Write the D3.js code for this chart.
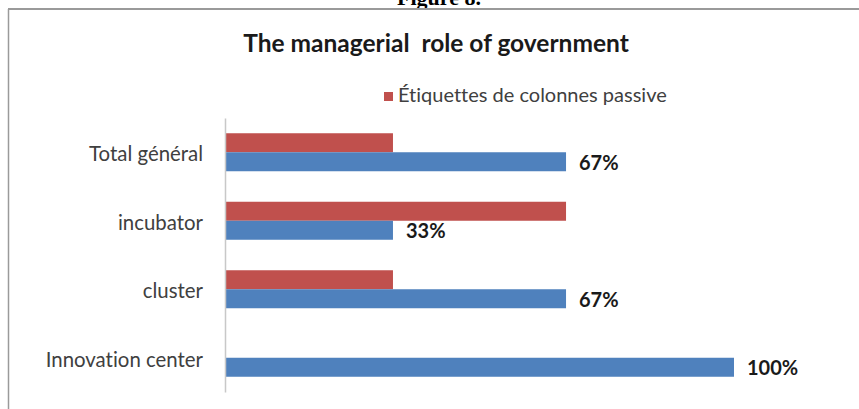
<!DOCTYPE html>
<html><head><meta charset="utf-8">
<script src="https://cdn.jsdelivr.net/npm/d3@7"></script>
<style>body{margin:0;background:#fff;}svg{display:block;}text{font-variant-ligatures:none;}</style>
</head><body>
<script>
const categories = ["Total général", "incubator", "cluster", "Innovation center"];
const passiveValues = [0.33, 0.67, 0.33, 0];
const activeValues = [0.67, 0.33, 0.67, 1.00];
const activeLabels = ["67%", "33%", "67%", "100%"];
const legendLabel = "Étiquettes de colonnes passive";
const title = "The managerial  role of government";
const caption = "Figure 8.";

const W = 859, H = 409;
const svg = d3.select("body").append("svg").attr("width", W).attr("height", H);
const font = "Lato, 'Open Sans', sans-serif";

// caption (cut off at top, as in the reference)
svg.append("text").attr("x", 439).attr("y", 5).attr("text-anchor", "middle")
  .attr("font-family", "'Liberation Serif', serif").attr("font-weight", "bold")
  .attr("font-size", 22).attr("fill", "#000").text(caption);

// frame
svg.append("line").attr("x1", 8).attr("x2", W).attr("y1", 9).attr("y2", 9)
  .attr("stroke", "#9a9a9a").attr("stroke-width", 2);
svg.append("line").attr("x1", 8.5).attr("x2", 8.5).attr("y1", 9).attr("y2", H)
  .attr("stroke", "#9a9a9a").attr("stroke-width", 1.5);

svg.append("text").attr("x", 436).attr("y", 52).attr("text-anchor", "middle")
  .attr("font-family", font).attr("font-weight", "bold").attr("font-size", 24.5)
  .attr("fill", "#1a1a1a").style("white-space", "pre").text(title);

// legend
svg.append("rect").attr("x", 384).attr("y", 92).attr("width", 9).attr("height", 9).attr("fill", "#C0504D");
svg.append("text").attr("x", 398).attr("y", 102).attr("font-family", font).attr("font-size", 20)
  .attr("fill", "#404040").text(legendLabel);

const x = d3.scaleLinear().domain([0, 1]).range([225, 734]);
const y = d3.scaleBand().domain(categories).range([118, 392]);
const barH = 19;

const g = svg.append("g");
categories.forEach((c, i) => {
  const mid = y(c) + y.bandwidth() / 2;
  if (passiveValues[i] > 0)
    g.append("rect").attr("x", x(0)).attr("y", mid - barH).attr("width", x(passiveValues[i]) - x(0))
      .attr("height", barH).attr("fill", "#C0504D");
  g.append("rect").attr("x", x(0)).attr("y", mid).attr("width", x(activeValues[i]) - x(0))
    .attr("height", barH).attr("fill", "#4F81BD");
  g.append("text").attr("x", x(activeValues[i]) + 13).attr("y", mid + barH / 2 + 8)
    .attr("font-family", font).attr("font-weight", "bold").attr("font-size", 20)
    .attr("fill", "#1a1a1a").text(activeLabels[i]);
});

const yAxis = d3.axisLeft(y).tickSize(0).tickPadding(22);
const ga = svg.append("g").attr("transform", `translate(${x(0)},0)`).call(yAxis);
ga.select(".domain").attr("stroke", "#c8c8c8").attr("stroke-width", 1.5);
ga.selectAll("text").attr("font-family", font).attr("font-size", 20.4).attr("fill", "#404040")
  .attr("dy", "0.45em");
</script>
</body></html>
